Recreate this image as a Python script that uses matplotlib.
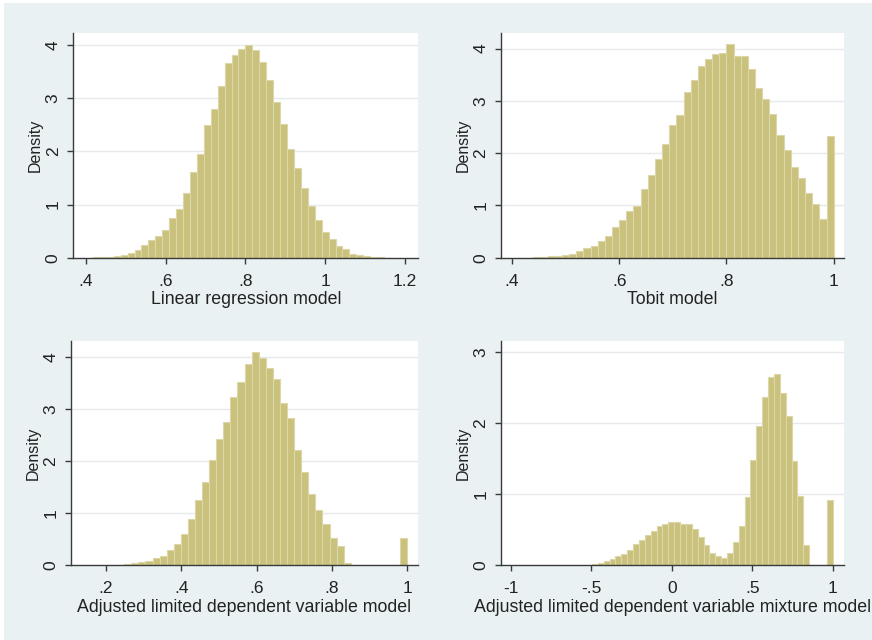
import numpy as np
import matplotlib
matplotlib.use("Agg")
import matplotlib.pyplot as plt
from matplotlib.patches import Rectangle

plt.rcParams['font.family'] = ['Liberation Sans', 'DejaVu Sans']

# histogram heights (density) per bin, bins given by first edge + width
lin_lo, lin_w = 0.4172, 0.0174
lin_density = [0.005, 0.01, 0.02, 0.03, 0.05, 0.08, 0.14, 0.23, 0.33, 0.41, 0.52,
               0.74, 0.92, 1.22, 1.61, 1.95, 2.50, 2.79, 3.23, 3.67, 3.82, 3.92,
               4.01, 3.91, 3.69, 3.34, 2.92, 2.51, 2.04, 1.68, 1.32, 0.98, 0.71,
               0.49, 0.36, 0.22, 0.17, 0.07, 0.05, 0.03, 0.015, 0.008, 0.004]

tob_lo, tob_w = 0.44, 0.2 / 15
tob_density = [0.01, 0.02, 0.03, 0.04, 0.05, 0.08, 0.13, 0.18, 0.23, 0.32, 0.41,
               0.58, 0.72, 0.90, 0.99, 1.32, 1.58, 1.89, 2.17, 2.54, 2.73, 3.17,
               3.39, 3.67, 3.80, 3.89, 3.92, 4.08, 3.85, 3.86, 3.60, 3.25, 3.03,
               2.75, 2.34, 2.06, 1.74, 1.52, 1.24, 1.03, 0.75, 2.33]

aldv_lo, aldv_w = 0.248, 0.0188
aldv_density = [0.02, 0.03, 0.05, 0.08, 0.13, 0.17, 0.28, 0.40, 0.60, 0.88, 1.25,
                1.60, 2.02, 2.43, 2.75, 3.22, 3.52, 3.87, 4.09, 3.97, 3.79, 3.57,
                3.12, 2.83, 2.21, 1.78, 1.36, 1.06, 0.79, 0.51, 0.37, 0.03,
                0, 0, 0, 0, 0, 0, 0, 0.51]

mix_lo, mix_w = -0.4965, 0.0365
mix_density = [0.015, 0.03, 0.05, 0.08, 0.12, 0.155, 0.21, 0.30, 0.35, 0.42, 0.48,
               0.55, 0.58, 0.60, 0.60, 0.58, 0.57, 0.50, 0.40, 0.28, 0.17, 0.12,
               0.10, 0.17, 0.33, 0.55, 0.95, 1.48, 1.95, 2.36, 2.65, 2.69, 2.42,
               2.10, 1.46, 0.97, 0.28, 0, 0, 0, 0.91]

titles = ["Linear regression model", "Tobit model",
          "Adjusted limited dependent variable model",
          "Adjusted limited dependent variable mixture model"]

xticks = [[0.4, 0.6, 0.8, 1.0, 1.2], [0.4, 0.6, 0.8, 1.0],
          [0.2, 0.4, 0.6, 0.8, 1.0], [-1, -0.5, 0, 0.5, 1]]
xtick_labels = [[".4", ".6", ".8", "1", "1.2"], [".4", ".6", ".8", "1"],
                [".2", ".4", ".6", ".8", "1"], ["-1", "-.5", "0", ".5", "1"]]
yticks = [[0, 1, 2, 3, 4], [0, 1, 2, 3, 4], [0, 1, 2, 3, 4], [0, 1, 2, 3]]

panels = [(lin_lo, lin_w, lin_density), (tob_lo, tob_w, tob_density),
          (aldv_lo, aldv_w, aldv_density), (mix_lo, mix_w, mix_density)]

# axes boxes (left, bottom, width, height) in figure fractions
boxes = [[0.0841, 0.5973, 0.3956, 0.3506], [0.5745, 0.5973, 0.3937, 0.3506],
         [0.0811, 0.1172, 0.3986, 0.3505], [0.5745, 0.1172, 0.3937, 0.3505]]
xlims = [(0.368, 1.234), (0.3795, 1.0198), (0.106, 1.029), (-1.062, 1.072)]
ylims = [(0, 4.22), (0, 4.29), (0, 4.31), (0, 3.155)]

bg = "#e9f1f3"
bar_fill = "#c9c17c"
bar_edge = "#dcd7a8"
axis_col = "#3a3a3a"

fig = plt.figure(figsize=(8.72, 6.4), dpi=100, facecolor="white")
frame = Rectangle((4 / 872, 0), 1, 1 - 3 / 640, transform=fig.transFigure,
                  facecolor=bg, edgecolor="none", zorder=-10)
fig.add_artist(frame)

for i, (lo, w, dens) in enumerate(panels):
    ax = fig.add_axes(boxes[i])
    ax.set_facecolor("white")
    edges = lo + w * np.arange(len(dens))
    ax.bar(edges, dens, width=w, align="edge", color=bar_fill,
           edgecolor=bar_edge, linewidth=0.8, zorder=2)

    ax.set_xlim(*xlims[i])
    ax.set_ylim(*ylims[i])
    ax.set_xticks(xticks[i])
    ax.set_xticklabels(xtick_labels[i])
    ax.set_yticks(yticks[i])
    ax.set_yticklabels([str(t) for t in yticks[i]], rotation=90, va="center")

    for t in yticks[i][1:]:
        ax.axhline(t, color="#e6eaec", linewidth=1.0, zorder=1)

    for s in ["top", "right"]:
        ax.spines[s].set_visible(False)
    for s in ["left", "bottom"]:
        ax.spines[s].set_color(axis_col)
        ax.spines[s].set_linewidth(1.0)
        ax.spines[s].set_zorder(3)

    ax.tick_params(direction="out", length=4, width=1, color=axis_col,
                   labelsize=12.5, labelcolor="#222222")
    ax.tick_params(axis="x", pad=7.5)
    ax.tick_params(axis="y", pad=5)
    ax.set_ylabel("Density", fontsize=11.5, color="#222222", labelpad=2)
    ax.set_xlabel(titles[i], fontsize=12.8, color="#222222", labelpad=2)

fig.savefig("out.png", dpi=100, facecolor=fig.get_facecolor())
